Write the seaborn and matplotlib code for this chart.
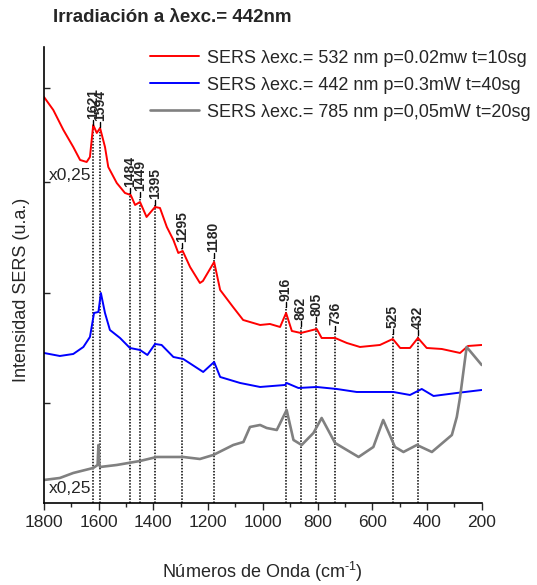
import numpy as np
import pandas as pd
import matplotlib
matplotlib.use("Agg")
import matplotlib.pyplot as plt
from matplotlib.ticker import MultipleLocator
import seaborn as sns

# spectra (wavenumber cm-1, intensity a.u. with offsets as drawn)
wn_532 = [1800, 1766, 1729, 1693, 1668, 1644, 1632, 1620, 1607, 1595, 1577, 1565, 1534, 1504,
          1483, 1467, 1449, 1425, 1394, 1376, 1351, 1327, 1309, 1293, 1266, 1230, 1219, 1178,
          1156, 1109, 1072, 1010, 974, 937, 915, 894, 861, 803, 785, 736, 693, 645, 572, 525,
          498, 462, 433, 401, 346, 279, 250, 200]
int_532 = [406, 393, 373, 356, 343, 341, 346, 378, 370, 375, 356, 336, 320, 310,
           308, 298, 301, 286, 296, 295, 276, 263, 250, 252, 236, 220, 222, 241,
           213, 196, 183, 178, 179, 176, 190, 172, 170, 174, 165, 165, 160, 156, 158, 164,
           155, 155, 165, 155, 154, 150, 157, 158]

wn_442 = [1800, 1742, 1693, 1656, 1632, 1617, 1601, 1592, 1577, 1559, 1522, 1486, 1449, 1422,
          1394, 1370, 1327, 1291, 1218, 1178, 1156, 1083, 1010, 919, 913, 870, 803, 730, 657,
          523, 462, 419, 376, 291, 200]
int_442 = [150, 147, 149, 156, 166, 190, 191, 210, 190, 173, 165, 155, 153, 148,
           159, 158, 146, 144, 131, 141, 126, 120, 116, 118, 120, 115, 116, 114, 111,
           111, 108, 114, 107, 110, 113]

wn_785 = [1800, 1742, 1693, 1620, 1604, 1601, 1598, 1595, 1534, 1449, 1388, 1291, 1230, 1181,
          1108, 1071, 1047, 1010, 986, 949, 913, 888, 858, 815, 785, 736, 650, 596, 560, 517,
          486, 437, 382, 309, 291, 279, 255, 200]
int_785 = [23, 25, 30, 35, 38, 58, 40, 36, 38, 42, 46, 46, 44, 48,
           58, 61, 76, 78, 75, 73, 93, 63, 58, 70, 85, 60, 46, 56, 83, 56,
           51, 58, 51, 68, 86, 106, 156, 138]

series_labels = ["SERS \u03bbexc.= 532 nm p=0.02mw t=10sg",
                 "SERS \u03bbexc.= 442 nm p=0.3mW t=40sg",
                 "SERS \u03bbexc.= 785 nm p=0,05mW t=20sg"]
series_colors = ["#ff0000", "#0000ff", "#808080"]

# marked bands and the height where each marker ends
peak_pos = [1621, 1594, 1484, 1449, 1395, 1295, 1180, 916, 862, 805, 736, 525, 432]
peak_top = [378, 376, 310, 306, 298, 255, 245, 196, 177, 181, 172, 169, 168]

sns.set_style("ticks")
plt.rcParams["font.family"] = ["Liberation Sans", "DejaVu Sans"]
plt.rcParams["mathtext.fontset"] = "custom"
plt.rcParams["mathtext.rm"] = "Liberation Sans"
plt.rcParams["mathtext.default"] = "rm"

fig = plt.figure(figsize=(5.37, 5.85), dpi=100)
ax = fig.add_axes([0.0819, 0.1402, 0.8151, 0.7795])

df = pd.concat([
    pd.DataFrame({"wn": wn_532, "I": int_532, "s": series_labels[0]}),
    pd.DataFrame({"wn": wn_442, "I": int_442, "s": series_labels[1]}),
    pd.DataFrame({"wn": wn_785, "I": int_785, "s": series_labels[2]}),
])
for lab, col, lw in zip(series_labels, series_colors, [1.4, 1.4, 1.9]):
    sns.lineplot(data=df[df["s"] == lab], x="wn", y="I", color=col, lw=lw,
                 ax=ax, label=lab, sort=False)

# dotted markers from the axis to each band, with a short tick and label
ax.vlines(peak_pos, 0, peak_top, colors="black", linestyles=(0, (1, 1)), lw=1.1, zorder=1)
for p, t in zip(peak_pos, peak_top):
    ax.plot([p, p], [t, t + 5], color="black", lw=1)
    ax.text(p, t + 6, str(p), rotation=90, ha="center", va="bottom",
            fontsize=10, fontweight="bold")

ax.text(1782, 327, "x0,25", fontsize=12.5, va="center", ha="left")
ax.text(1782, 14, "x0,25", fontsize=12.5, va="center", ha="left")

ax.set_xlim(1800, 200)
ax.set_ylim(0, 456)
ax.xaxis.set_major_locator(MultipleLocator(200))
ax.xaxis.set_minor_locator(MultipleLocator(100))
ax.set_yticks([100, 210, 321, 415])
ax.set_yticklabels([])
ax.tick_params(axis="x", which="major", direction="out", length=5, width=1,
               labelsize=12.5, pad=4)
ax.tick_params(axis="x", which="minor", direction="out", length=3, width=1)
ax.tick_params(axis="y", direction="in", length=4, width=1)
sns.despine(ax=ax)
for sp in ["left", "bottom"]:
    ax.spines[sp].set_linewidth(1.2)
    ax.spines[sp].set_color("black")

ax.set_xlabel("")
ax.set_ylabel("")
fig.text(0.489, 1 - 572 / 585, "N\u00fameros de Onda (cm$^{\u2010 1}$)", fontsize=13,
         ha="center", va="center")
fig.text(22 / 537, 1 - 290 / 585, "Intensidad SERS (u.a.)", fontsize=13,
         rotation=90, ha="center", va="center")
fig.text(53 / 537, 1 - 17 / 585, "Irradiaci\u00f3n a \u03bbexc.= 442nm", fontsize=13.5,
         fontweight="bold", ha="left", va="center")

ax.legend(loc="upper left", bbox_to_anchor=(0.279, 0.915), bbox_transform=fig.transFigure,
          frameon=False, fontsize=13, handlelength=2.7, handletextpad=0.45,
          labelspacing=0.55, borderpad=0, borderaxespad=0)

fig.savefig("out.png", dpi=100)
